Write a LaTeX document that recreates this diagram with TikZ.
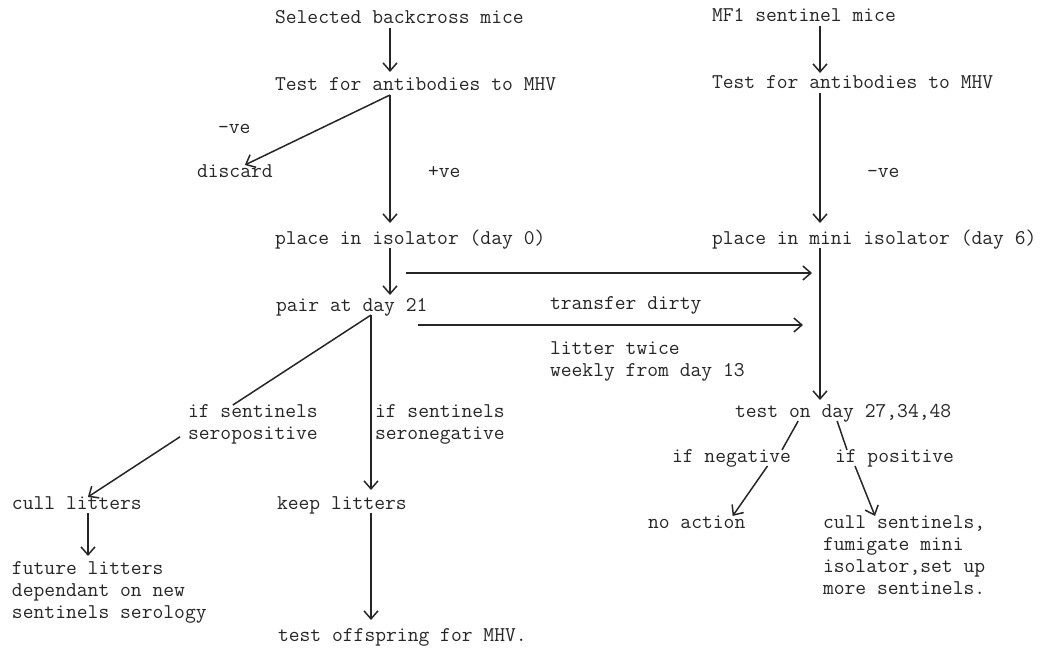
\documentclass[tikz,border=0pt]{standalone}
\usetikzlibrary{arrows.meta}

\begin{document}
\begin{tikzpicture}[x=1pt,y=-1pt]
\useasboundingbox (0,0) rectangle (1040,647);
\coordinate (colL) at (390,0);
\coordinate (colR) at (820,0);
\coordinate (fork) at (371,0);
\coordinate (colC) at (88,0);
\coordinate (dirty1) at (406,273);
\coordinate (dirty2) at (418,325);
\begin{scope}[every node/.style={anchor=west,inner sep=0pt,outer sep=0pt,text height=12pt,text depth=4pt,
                                 font=\ttfamily\fontsize{21}{22}\selectfont,text=black!85}]
    \node (sel) at (275,20) {Selected backcross mice};
    \node (testL) at (275,87) {Test for antibodies to MHV};
    \node (negL) at (218,130) {-ve};
    \node (discard) at (197,173) {discard};
    \node (posL) at (428,173) {+ve};
    \node (iso) at (275,240) {place in isolator (day 0)};
    \node (pair) at (276,307) {pair at day 21};
    \node (transfer) at (550,305) {transfer dirty};
    \node (cull) at (12,505) {cull litters};
    \node (keep) at (277,505) {keep litters};
    \node (offspr) at (278,637) {test offspring for MHV.};
    \node (mf1) at (712,18) {MF1 sentinel mice};
    \node (testR) at (712,85) {Test for antibodies to MHV};
    \node (negR) at (867,173) {-ve};
    \node (mini) at (712,240) {place in mini isolator (day 6)};
    \node (testday) at (735,413) {test on day 27,34,48};
    \node (ifn) at (672,458) {if negative};
    \node (ifp) at (835,458) {if positive};
    \node (noact) at (648,524) {no action};
\end{scope}
\begin{scope}[every node/.style={anchor=north west,align=left,inner sep=0pt,outer sep=0pt,
                                 font=\ttfamily\fontsize{21}{22}\selectfont,text=black!85}]
    \node (litter) at (550,342) {litter twice\\weekly from day 13};
    \node (sero1) at (188,405) {if sentinels\\seropositive};
    \node (sero2) at (375,405) {if sentinels\\seronegative};
    \node (future) at (12,562) {future litters\\dependant on new\\sentinels serology};
    \node (cullS) at (823,516) {cull sentinels,\\fumigate mini\\isolator,set up\\more sentinels.};
\end{scope}
\begin{scope}[>={Straight Barb[length=8pt,width=14pt]},
              arrow_edge/.style={draw=black!85,line width=1.5pt},
              plain_edge/.style={draw=black!85,line width=1.5pt}]
    \path [->] (sel.south -| colL) edge [arrow_edge, shorten >=7pt] (testL.north -| colL);
    \path [->] (mf1.south -| colR) edge [arrow_edge, shorten >=4pt] (testR.north -| colR);
    \path [->] (testL.south -| colL) edge [arrow_edge] ([xshift=10pt]discard.north);
    \path [->] (testL.south -| colL) edge [arrow_edge, shorten >=9pt] (iso.north -| colL);
    \path [->] (testR.south -| colR) edge [arrow_edge, shorten >=9pt] (mini.north -| colR);
    \path [->] (iso.south -| colL) edge [arrow_edge, shorten >=4pt] (pair.north -| colL);
    \path [->] (dirty1) edge [arrow_edge, shorten >=8pt] (dirty1 -| colR);
    \path [->] (dirty2) edge [arrow_edge, shorten >=17pt] (dirty2 -| colR);
    \path [->] (mini.south -| colR) edge [arrow_edge, shorten >=5pt] (testday.north -| colR);
    \path (pair.south -| fork) edge [plain_edge] ([xshift=-20pt]sero1.north);
    \path [->] ([xshift=-8pt,yshift=-12pt]sero1.west) edge [arrow_edge] ([xshift=11pt]cull.north);
    \path [->] (pair.south -| fork) edge [arrow_edge, shorten >=7pt] (keep.north -| fork);
    \path [->] (cull.south -| colC) edge [arrow_edge, shorten >=6pt] (future.north -| colC);
    \path [->] (keep.south -| fork) edge [arrow_edge, shorten >=9pt] (offspr.north -| fork);
    \path ([xshift=-45pt]testday.south) edge [plain_edge] ([xshift=-9pt]ifn.north east);
    \path ([xshift=-6pt]testday.south) edge [plain_edge] ([xshift=12pt]ifp.north west);
    \path [->] ([xshift=36pt]ifn.south) edge [arrow_edge] ([xshift=36pt]noact.north);
    \path [->] ([xshift=20pt]ifp.south west) edge [arrow_edge] ([xshift=52pt]cullS.north west);
\end{scope}
\end{tikzpicture}
\end{document}
